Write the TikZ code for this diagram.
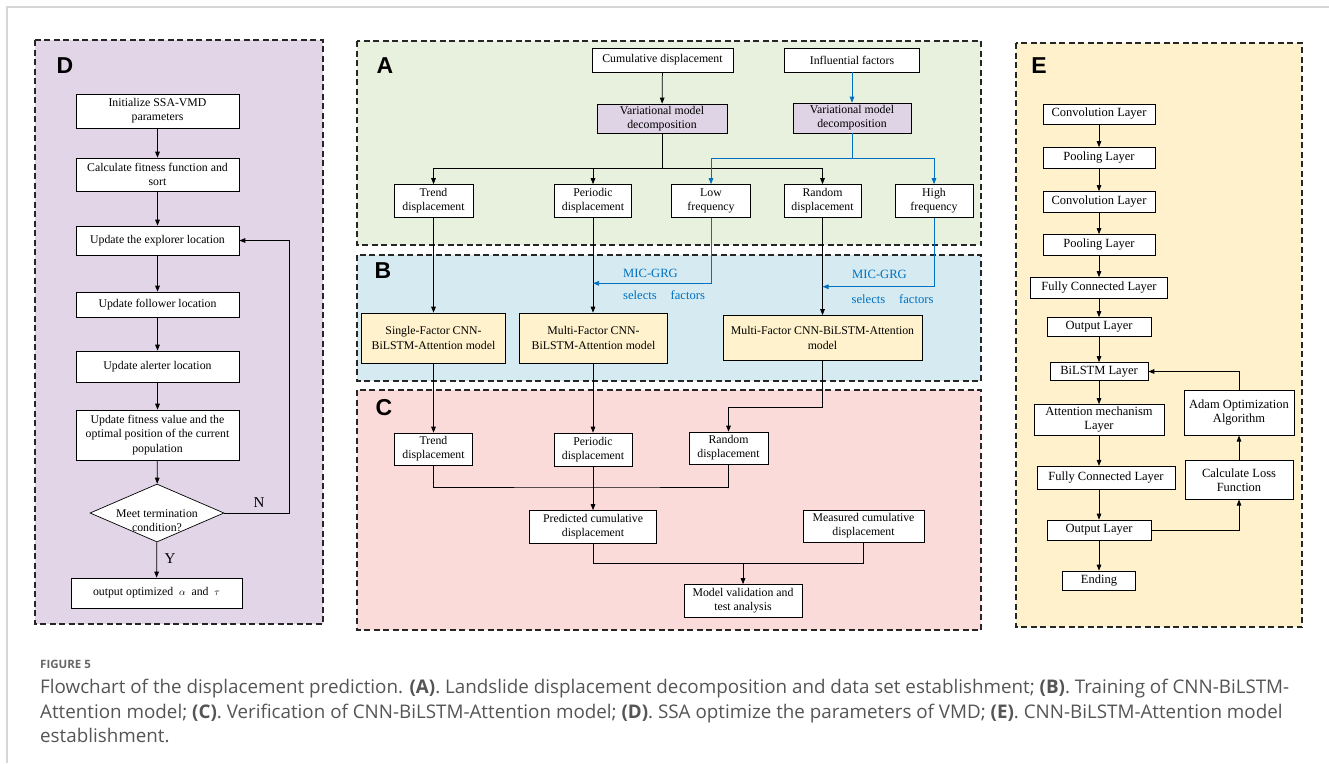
\documentclass[tikz,border=0pt]{standalone}
\usepackage{fontspec}
\setmainfont{Liberation Serif}
\newfontfamily\capfont{Open Sans}
\newfontfamily\lblfont{Liberation Sans}
\usetikzlibrary{arrows.meta,shapes.geometric,calc}
\definecolor{cD}{HTML}{E1D5E7}
\definecolor{cA}{HTML}{E8F0DE}
\definecolor{cB}{HTML}{D5EBF1}
\definecolor{cC}{HTML}{FADBDA}
\definecolor{cE}{HTML}{FFF1CC}
\definecolor{cVMD}{HTML}{DFD3E6}
\definecolor{cY}{HTML}{FFF2CC}
\definecolor{myblue}{HTML}{0070C0}
\definecolor{capgray}{HTML}{555555}
\definecolor{framegray}{HTML}{D6D6D6}
\begin{document}
\begin{tikzpicture}[x=1pt,y=-1pt,
  bx/.style={draw=black, fill=white, line width=0.7pt, inner sep=0pt, align=center,
    font=\fontsize{11.8}{14.3}\selectfont},
  ebx/.style={bx, font=\fontsize{12.5}{14}\selectfont},
  sz/.style 2 args={minimum width=#1pt, minimum height=#2pt},
  panel/.style={draw=black!85, line width=1.2pt, dash pattern=on 6pt off 3.5pt},
  plabel/.style={font=\lblfont\bfseries\fontsize{23}{23}\selectfont, inner sep=0pt},
  arr/.style={-{Triangle[length=6pt,width=4.6pt]}, line width=0.75pt},
  ln/.style={line width=0.75pt},
  barr/.style={arr, draw=myblue, color=myblue},
  btxt/.style={text=myblue, font=\fontsize{12.6}{14}\selectfont, inner sep=0pt, anchor=west},
  yn/.style={font=\fontsize{15}{15}\selectfont, inner sep=0pt},
  captxt/.style={font=\capfont\fontsize{18.8}{22}\selectfont, text=capgray, inner sep=0pt, anchor=base west}
]
\useasboundingbox (0,0) rectangle (1329,763);
\fill[white] (0,0) rectangle (1329,763);
\draw[framegray, line width=1.3pt] (7,763) -- (7,7) -- (1329,7);

% ---------- panel backgrounds ----------
\path[panel, fill=cD] (35,40) rectangle (323,624);
\path[panel, fill=cA] (357,41) rectangle (981,245);
\path[panel, fill=cB] (357,255) rectangle (981,381);
\path[panel, fill=cC] (357,390) rectangle (981,630);
\path[panel, fill=cE] (1016,43) rectangle (1302,627);

\node[plabel] (labD) at (65,66) {D};
\node[plabel] (labA) at (385,66) {A};
\node[plabel] (labB) at (383,271) {B};
\node[plabel] (labC) at (384,408) {C};
\node[plabel] (labE) at (1039,66) {E};

% ---------- panel D ----------
\node[bx, sz={163}{34}] (d1) at (157.5,111) {Initialize SSA-VMD\\parameters};
\node[bx, sz={163}{33}] (d2) at (157.5,174.5) {Calculate fitness function and\\sort};
\node[bx, sz={163}{29}] (d3) at (157.5,240.5) {Update the explorer location};
\node[bx, sz={163}{25}] (d4) at (157.5,304.5) {Update follower location};
\node[bx, sz={163}{31}] (d5) at (157.5,366.5) {Update alerter location};
\node[bx, sz={163}{50}] (d6) at (157.5,435) {Update fitness value and the\\optimal position of the current\\population};
\node[draw=black, fill=white, diamond, sz={134}{58}, inner sep=0pt, line width=0.7pt] (d7) at (157,513) {};
\node[align=center, inner sep=0pt, font=\fontsize{11.8}{14.3}\selectfont] (d7t) at (157,520.5) {Meet termination\\condition?};
\node[bx, sz={171}{30}] (d8) at (156.5,593) {output optimized \ {\fontsize{10}{10}\selectfont$\alpha$} \ and \ {\fontsize{10}{10}\selectfont$\tau$}};
\coordinate (dN) at (289,513);

\draw[arr] (d1) -- (d2);
\draw[arr] (d2) -- (d3);
\draw[arr] (d3) -- (d4);
\draw[arr] (d4) -- (d5);
\draw[arr] (d5) -- (d6);
\draw[arr] (d6) -- (d7);
\draw[arr] (d7) -- (d8);
\draw[arr] (d7.east) -- (dN) |- (d3.east);
\node[yn] (nN) at (259,503) {N};
\node[yn] (nY) at (170,559) {Y};

% ---------- panel A ----------
\node[bx, sz={141}{24}] (cum) at (662.5,60) {Cumulative displacement};
\node[bx, sz={135}{24}] (inf) at (852,60) {Influential factors};
\node[bx, fill=cVMD, sz={130}{29}] (v1) at (662,118.5) {Variational model\\decomposition};
\node[bx, fill=cVMD, sz={118}{30}] (v2) at (852,118) {Variational model\\decomposition};
\node[bx, sz={79}{33}] (tA) at (433.5,201) {Trend\\displacement};
\node[bx, sz={77}{33}] (pA) at (593,201) {Periodic\\displacement};
\node[bx, sz={79}{33}] (lA) at (711,201) {Low\\frequency};
\node[bx, sz={77}{33}] (rA) at (822.5,201) {Random\\displacement};
\node[bx, sz={78}{33}] (hA) at (934,201) {High\\frequency};
\coordinate (jA) at (662,168);
\coordinate (jB) at (852,158);

\draw[arr] (cum) -- (v1);
\draw[barr] (inf) -- (v2);
\draw[ln] (v1.south) -- (jA);
\draw[arr] (jA) -| (tA.north);
\draw[arr] (jA) -| (pA.north);
\draw[arr] (jA) -| (rA.north);
\draw[ln, myblue] (v2.south) -- (jB);
\draw[barr] (jB) -| (lA.north);
\draw[barr] (jB) -| (hA.north);

% ---------- panel B ----------
\node[bx, fill=cY, sz={144}{50}] (sB) at (433.5,338) {Single-Factor CNN-\\BiLSTM-Attention model};
\node[bx, fill=cY, sz={148}{50}] (mB) at (593.5,338) {Multi-Factor CNN-\\BiLSTM-Attention model};
\node[bx, fill=cY, sz={199}{45}] (rB) at (822.5,338) {Multi-Factor CNN-BiLSTM-Attention\\model};
\coordinate (mL) at (593,283.3);
\coordinate (mR) at (822.5,286.7);

\draw[arr] (tA.south) -- (sB.north);
\draw[arr] (pA.south) -- (pA.south |- mB.north);
\draw[arr] (rA.south) -- (rA.south |- rB.north);
\draw[barr] (lA.south) |- (mL);
\draw[barr] (hA.south) |- (mR);
\node[btxt] (mic1) at (623,273.3) {MIC-GRG};
\node[btxt] (sel1) at (623,295) {selects\hspace{1.1em}factors};
\node[btxt] (mic2) at (852,274) {MIC-GRG};
\node[btxt] (sel2) at (851.5,299) {selects\hspace{1.1em}factors};

% ---------- panel C ----------
\node[bx, sz={78}{32}] (tC) at (433.5,449) {Trend\\displacement};
\node[bx, sz={78}{33}] (pC) at (593,449.5) {Periodic\\displacement};
\node[bx, sz={79}{32}] (rC) at (728.5,448) {Random\\displacement};
\node[bx, sz={127}{33}] (pred) at (593,527) {Predicted cumulative\\displacement};
\node[bx, sz={121}{32}] (meas) at (863.5,526) {Measured cumulative\\displacement};
\node[bx, sz={118}{33}] (mv) at (743,601) {Model validation and\\test analysis};
\coordinate (cR) at (822.5,407);
\coordinate (cJ) at (593,487);
\coordinate (cK) at (743,563);

\draw[arr] (sB.south) -- (tC.north);
\draw[arr] (mB.south -| pC.north) -- (pC.north);
\draw[ln] (rB.south -| cR) -- (cR);
\draw[arr] (cR) -| (rC.north);
\draw[ln] (tC.south) |- (cJ) -| (rC.south);
\draw[arr] (pC.south) -- (pred.north);
\draw[ln] (pred.south) |- (cK) -| (meas.south);
\draw[arr] (cK) -- (mv.north);

% ---------- panel E ----------
\node[ebx, sz={112}{20}] (e1) at (1099,114) {Convolution Layer};
\node[ebx, sz={112}{21}] (e2) at (1099,158) {Pooling Layer};
\node[ebx, sz={112}{21}] (e3) at (1099,202) {Convolution Layer};
\node[ebx, sz={112}{21}] (e4) at (1099,245) {Pooling Layer};
\node[ebx, sz={137}{21}] (e5) at (1099,288) {Fully Connected Layer};
\node[ebx, sz={104}{19}] (e6) at (1099,327) {Output Layer};
\node[ebx, sz={98}{18}] (e7) at (1099,371.5) {BiLSTM Layer};
\node[ebx, sz={130}{31}] (e8) at (1099,420) {Attention mechanism\\Layer};
\node[ebx, sz={138}{23}] (e9) at (1106,477.7) {Fully Connected Layer};
\node[ebx, sz={104}{20}] (e10) at (1099,530) {Output Layer};
\node[ebx, sz={73}{19}] (e11) at (1099,580.5) {Ending};
\node[ebx, sz={108}{38.5}] (loss) at (1239,480) {Calculate Loss\\Function};
\node[ebx, sz={110}{44.5}] (adam) at (1239,413) {Adam Optimization\\Algorithm};

\draw[arr] (e1) -- (e2);
\draw[arr] (e2) -- (e3);
\draw[arr] (e3) -- (e4);
\draw[arr] (e4) -- (e5);
\draw[arr] (e5) -- (e6);
\draw[arr] (e6) -- (e7);
\draw[arr] (e7) -- (e8);
\draw[arr] (e8.south) -- (e8.south |- e9.north);
\draw[arr] (e10.north |- e9.south) -- (e10.north);
\draw[arr] (e10) -- (e11);
\draw[arr] (e10.east) -| (loss.south);
\draw[arr] (loss) -- (adam);
\draw[arr] (adam.north) |- (e7.east);

% ---------- caption ----------
\node[captxt, font=\capfont\bfseries\fontsize{11.5}{14}\selectfont, text=black!60] (fig) at (40,668) {FIGURE 5};
\node[captxt] (cap1) at (40,693) {Flowchart of the displacement prediction. \textbf{(A)}. Landslide displacement decomposition and data set establishment; \textbf{(B)}. Training of CNN-BiLSTM-};
\node[captxt] (cap2) at (40,718) {Attention model; \textbf{(C)}. Verification of CNN-BiLSTM-Attention model; \textbf{(D)}. SSA optimize the parameters of VMD; \textbf{(E)}. CNN-BiLSTM-Attention model};
\node[captxt] (cap3) at (40,742) {establishment.};
\end{tikzpicture}
\end{document}
